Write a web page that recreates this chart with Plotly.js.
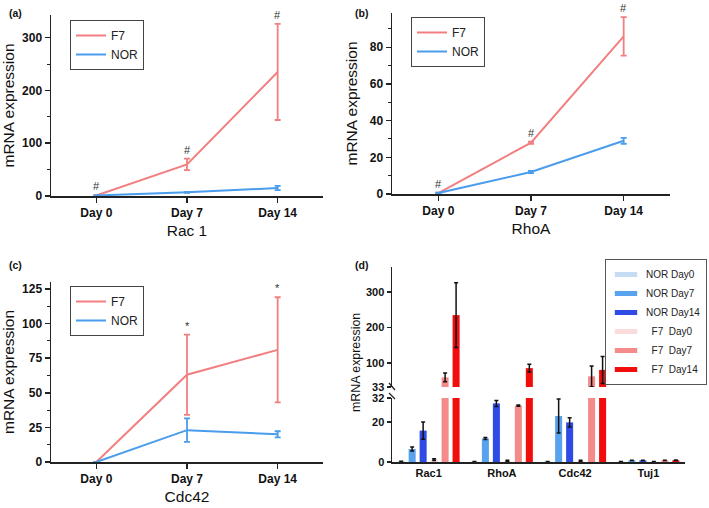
<!DOCTYPE html>
<html><head><meta charset="utf-8">
<script src="https://cdn.plot.ly/plotly-3.0.1.min.js"></script>
<style>html,body{margin:0;padding:0;background:#fff}#chart{width:709px;height:508px}</style>
</head><body><div id="chart"></div>
<script>
// ---------- data ----------
const days = ['Day 0', 'Day 7', 'Day 14'];
// (a) Rac 1
const racF7 = [1, 60, 235];
const racF7Err = [0.5, 11, 91];
const racNOR = [1, 7, 15];
const racNORErr = [0.3, 1, 4];
const racMarks = ['#', '#', '#'];
// (b) RhoA
const rhoF7 = [0.5, 28, 86];
const rhoF7Err = [0.3, 0.6, 10.5];
const rhoNOR = [0.5, 12, 29];
const rhoNORErr = [0.2, 0.6, 1.6];
const rhoMarks = ['#', '#', '#'];
// (c) Cdc42
const cdcF7 = [0, 63, 81];
const cdcF7Err = [0, 29, 38];
const cdcNOR = [0, 23, 20];
const cdcNORErr = [0, 8.5, 2.2];
const cdcMarks = ['', '*', '*'];
// (d) grouped bars
const genes = ['Rac1', 'RhoA', 'Cdc42', 'Tuj1'];
const groupNames = ['NOR Day0', 'NOR Day7', 'NOR Day14', '\u00a0\u00a0F7\u00a0\u00a0Day0', '\u00a0\u00a0F7\u00a0\u00a0Day7', '\u00a0\u00a0F7\u00a0\u00a0Day14'];
const norDay0 = [0.4, 0.3, 0.3, 0.3];
const norDay0Err = [0, 0, 0, 0];
const norDay7 = [6.5, 11.8, 23, 0.8];
const norDay7Err = [1, 0.5, 8.5, 0.1];
const norDay14 = [15.7, 29.3, 19.8, 0.8];
const norDay14Err = [4.3, 1.5, 2.3, 0.1];
const f7Day0 = [1.2, 0.6, 0.6, 0.3];
const f7Day0Err = [0.4, 0.3, 0.3, 0];
const f7Day7 = [60, 28.2, 63, 0.8];
const f7Day7Err = [12, 0.3, 29, 0.1];
const f7Day14 = [235, 86, 81, 0.9];
const f7Day14Err = [91, 11, 38, 0.1];
const breakLow = 32, breakHigh = 33;

// ---------- styles ----------
const F7C = '#F27F80', NORC = '#4A9CEC';
const barColors = ['#C5DCF4', '#58A2EE', '#2E4BE6', '#FBDCDC', '#F48A8A', '#F20D0D'];
const FONT = 'Arial, "Liberation Sans", sans-serif';
const AX = '#222';

function lineTrace(name, y, err, color, xa, ya, leg) {
  return {type: 'scatter', mode: 'lines', name: name, x: days, y: y,
    xaxis: xa, yaxis: ya, legend: leg,
    line: {color: color, width: 2},
    error_y: {type: 'data', array: err, visible: true, color: color, thickness: 1.8, width: 3}};
}

const traces = [
  lineTrace('F7', racF7, racF7Err, F7C, 'x', 'y', 'legend'),
  lineTrace('NOR', racNOR, racNORErr, NORC, 'x', 'y', 'legend'),
  lineTrace('F7', rhoF7, rhoF7Err, F7C, 'x2', 'y2', 'legend2'),
  lineTrace('NOR', rhoNOR, rhoNORErr, NORC, 'x2', 'y2', 'legend2'),
  lineTrace('F7', cdcF7, cdcF7Err, F7C, 'x3', 'y3', 'legend3'),
  lineTrace('NOR', cdcNOR, cdcNORErr, NORC, 'x3', 'y3', 'legend3')
];

const barSeries = [norDay0, norDay7, norDay14, f7Day0, f7Day7, f7Day14];
const barErrs = [norDay0Err, norDay7Err, norDay14Err, f7Day0Err, f7Day7Err, f7Day14Err];
// lower segment of the broken axis
barSeries.forEach(function (s, i) {
  traces.push({type: 'bar', x: genes, y: s, name: groupNames[i], xaxis: 'x4', yaxis: 'y4',
    showlegend: false, marker: {color: barColors[i]},
    error_y: {type: 'data', array: barErrs[i].map(function (e, j) { return s[j] < breakLow ? e : 0; }),
      visible: true, color: '#111', thickness: 1.5, width: 2}});
});
// upper segment: only values beyond the break
barSeries.forEach(function (s, i) {
  traces.push({type: 'bar', x: genes, y: s.map(function (v) { return v > breakHigh ? v : null; }),
    name: groupNames[i], xaxis: 'x4', yaxis: 'y5',
    showlegend: false, marker: {color: barColors[i]},
    error_y: {type: 'data', array: barErrs[i], visible: true, color: '#111', thickness: 1.5, width: 2}});
});
// legend entries for panel (d)
groupNames.forEach(function (n, i) {
  traces.push({type: 'scatter', mode: 'markers', x: [null], y: [null], name: n, xaxis: 'x4', yaxis: 'y4',
    legend: 'legend4', hoverinfo: 'skip',
    marker: {symbol: 'line-ew', size: 16, color: barColors[i], line: {width: 5, color: barColors[i]}}});
});

function px(v) { return v / 709; }
function py(v) { return 1 - v / 508; }

function xAx(domain, anchor, title) {
  const o = {domain: domain, anchor: anchor, range: [-0.5, 2.5], showline: true, linecolor: AX, linewidth: 1.5,
    ticks: 'outside', ticklen: 5, tickwidth: 1.5, tickcolor: AX, showgrid: false, zeroline: false,
    tickfont: {family: FONT, size: 12, weight: 'bold', color: '#111'}};
  if (title) o.title = {text: title, font: {family: FONT, size: 15.5, color: '#111'}, standoff: 6};
  return o;
}
function yAx(domain, anchor, range, dtick, minorDtick) {
  return {domain: domain, anchor: anchor, range: range, tick0: 0, dtick: dtick, showline: true, linecolor: AX, linewidth: 1.5,
    ticks: 'outside', ticklen: 5, tickwidth: 1.5, tickcolor: AX, showgrid: false, zeroline: false,
    minor: {ticks: 'outside', ticklen: 3, tickwidth: 1, tickcolor: AX, dtick: minorDtick, tick0: 0},
    tickfont: {family: FONT, size: 12, weight: 'bold', color: '#111'},
    title: {text: 'mRNA expression', font: {family: FONT, size: 15.5, color: '#111'}, standoff: 8}};
}
function legendBox(x, y, size) {
  return {x: x, y: y, xanchor: 'left', yanchor: 'top', bgcolor: '#fff', bordercolor: '#444', borderwidth: 1,
    font: {family: FONT, size: size, color: '#222'}, tracegroupgap: 0};
}

function marks(list, vals, errs, xa, ya) {
  return list.map(function (t, i) {
    return {text: t, x: days[i], y: vals[i] + errs[i], xref: xa, yref: ya, showarrow: false,
      yanchor: 'bottom', yshift: 1, font: {family: FONT, size: 11, color: '#333'}};
  }).filter(function (a) { return a.text; });
}
function panelLabel(t, x, y) {
  return {text: t, xref: 'paper', yref: 'paper', x: px(x), y: py(y), xanchor: 'left', yanchor: 'middle',
    showarrow: false, font: {family: FONT, size: 10.5, weight: 'bold', color: '#111'}};
}

const layout = {
  width: 709, height: 508, margin: {l: 0, r: 0, t: 0, b: 0},
  paper_bgcolor: '#fff', plot_bgcolor: 'rgba(0,0,0,0)',
  font: {family: FONT, color: '#111'},
  bargap: 0.1, bargroupgap: 0.36, barmode: 'group',
  xaxis: xAx([px(51), px(323)], 'y', 'Rac 1'),
  yaxis: yAx([py(196), py(15)], 'x', [0, 343], 100, 50),
  xaxis2: xAx([px(392), px(670)], 'y2', 'RhoA'),
  yaxis2: yAx([py(194), py(13)], 'x2', [0, 98.7], 20, 10),
  xaxis3: xAx([px(51), px(323)], 'y3', 'Cdc42'),
  yaxis3: yAx([py(462), py(282)], 'x3', [0, 130], 25, 12.5),
  xaxis4: {domain: [px(392), px(685)], anchor: 'y4', range: [-0.5, 3.5], showline: true, linecolor: AX, linewidth: 1.5,
    ticks: '', showgrid: false, zeroline: false,
    tickfont: {family: FONT, size: 11, weight: 'bold', color: '#111'}},
  yaxis4: {domain: [py(462), py(398)], anchor: 'x4', range: [0, breakLow], tickvals: [0, 20, breakLow], showline: true, linecolor: AX,
    linewidth: 1.5, ticks: 'outside', ticklen: 4, tickwidth: 1.5, tickcolor: AX, showgrid: false, zeroline: false,
    tickfont: {family: FONT, size: 11, weight: 'bold', color: '#111'}},
  yaxis5: {domain: [py(387), py(267)], anchor: 'x4', range: [breakHigh, 370], tickvals: [breakHigh, 100, 200, 300], showline: true,
    linecolor: AX, linewidth: 1.5, ticks: 'outside', ticklen: 4, tickwidth: 1.5, tickcolor: AX, showgrid: false,
    zeroline: false, tickfont: {family: FONT, size: 11, weight: 'bold', color: '#111'}},
  legend: legendBox(px(70), py(20), 12),
  legend2: legendBox(px(411), py(17), 12),
  legend3: legendBox(px(70), py(286), 12),
  legend4: Object.assign(legendBox(px(707), py(259), 10), {xanchor: 'right', bordercolor: '#555'}),
  shapes: [
    {type: 'line', xref: 'paper', yref: 'paper', x0: px(389), y0: py(383), x1: px(395), y1: py(390), line: {color: AX, width: 1.3}},
    {type: 'line', xref: 'paper', yref: 'paper', x0: px(389), y0: py(393), x1: px(395), y1: py(399), line: {color: AX, width: 1.3}}
  ],
  annotations: [].concat(
    marks(racMarks, racF7, racF7Err, 'x', 'y'),
    marks(rhoMarks, rhoF7, rhoF7Err, 'x2', 'y2'),
    marks(cdcMarks, cdcF7, cdcF7Err, 'x3', 'y3'),
    [panelLabel('(a)', 7, 13), panelLabel('(b)', 353, 13), panelLabel('(c)', 7, 265), panelLabel('(d)', 353, 265),
     {text: 'mRNA expression', xref: 'paper', yref: 'paper', x: px(356), y: py(363), textangle: -90,
      showarrow: false, xanchor: 'center', yanchor: 'middle', font: {family: FONT, size: 12.4, color: '#111'}}]
  )
};

Plotly.newPlot('chart', traces, layout, {displayModeBar: false, staticPlot: true});
</script>
</body></html>
